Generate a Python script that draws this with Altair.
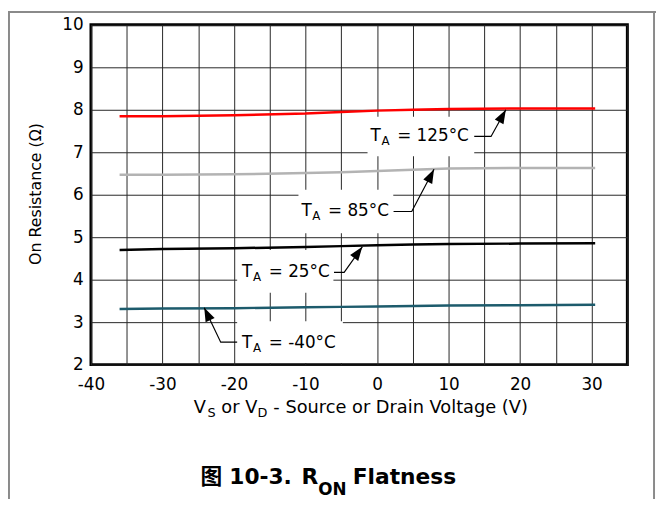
import altair as alt
import pandas as pd

FONT = "DejaVu Sans, Noto Sans CJK SC"

# ---- series ----
volts = [-36, -30, -20, -10, -5, 0, 5, 10, 20, 30.5]
ron_m40 = [3.31, 3.32, 3.33, 3.35, 3.36, 3.37, 3.38, 3.39, 3.40, 3.41]
ron_25 = [4.70, 4.72, 4.74, 4.77, 4.79, 4.81, 4.83, 4.84, 4.85, 4.86]
ron_85 = [6.47, 6.47, 6.48, 6.51, 6.53, 6.56, 6.59, 6.62, 6.63, 6.63]
ron_125 = [7.85, 7.85, 7.87, 7.91, 7.95, 7.98, 8.00, 8.02, 8.03, 8.03]
series_names = ["-40°C", "25°C", "85°C", "125°C"]
series_colors = ["#1d5b6c", "#000000", "#b3b3b3", "#ff0000"]

x_ticks = [-40, -35, -30, -25, -20, -15, -10, -5, 0, 5, 10, 15, 20, 25, 30, 35]
y_ticks = [2, 3, 4, 5, 6, 7, 8, 9, 10]

# ---- annotations (data coordinates) ----
ann_label = ["= -40°C", "= 25°C", "= 85°C", "= 125°C"]
ann_text_x = [-18.87, -18.87, -10.58, -0.91]
ann_text_y = [2.388, 4.053, 5.495, 7.256]
box_x1 = [-19.56, -19.56, -10.99, -1.33]
box_x2 = [-4.78, -6.1, 2.27, 13.59]
box_y1 = [2.04, 3.69, 5.093, 6.907]
box_y2 = [3.023, 4.698, 6.116, 7.837]
lead_x = [-19.56, -6.02, 2.31, 13.59]
lead_y = [2.528, 4.170, 5.605, 7.372]
elbow_x = [-21.86, -4.60, 4.85, 15.94]
tip_x = [-24.16, -2.06, 7.97, 18.01]
tip_y = [3.342, 4.774, 6.598, 8.0]
arrow_angle = [335, 36, 27, 29]

rows = []
for name, vals in zip(series_names, [ron_m40, ron_25, ron_85, ron_125]):
    for v, r in zip(volts, vals):
        rows.append({"series": name, "v": v, "r": r})
df = pd.DataFrame(rows)

ann = pd.DataFrame({"label": ann_label, "v": ann_text_x, "r": ann_text_y})
boxes = pd.DataFrame({"v": box_x1, "v2": box_x2, "r": box_y1, "r2": box_y2})
lrows = []
for i in range(len(ann_label)):
    lrows.append({"a": i, "o": 0, "v": lead_x[i], "r": lead_y[i]})
    lrows.append({"a": i, "o": 1, "v": elbow_x[i], "r": lead_y[i]})
    lrows.append({"a": i, "o": 2, "v": tip_x[i], "r": tip_y[i]})
leaders = pd.DataFrame(lrows)
arrows = pd.DataFrame({"v": tip_x, "r": tip_y, "ang": arrow_angle})

xs = alt.Scale(domain=[-40, 35], nice=False, zero=False)
ys = alt.Scale(domain=[2, 10], nice=False, zero=False)
xaxis = alt.Axis(values=x_ticks, title=None, labelFlush=False, labelOverlap=False,
                 labelPadding=12,
                 labelExpr="datum.value % 10 == 0 && datum.value < 35 ? '' + datum.value : ''")
yaxis = alt.Axis(values=y_ticks, title=None, labelPadding=8, labelOverlap=False,
                 labelExpr="'' + datum.value")


def X(f="v"):
    return alt.X(f, type="quantitative", scale=xs, axis=xaxis)


def Y(f="r"):
    return alt.Y(f, type="quantitative", scale=ys, axis=yaxis)


box_layer = alt.Chart(boxes).mark_rect(color="white").encode(
    x=X(), x2="v2", y=Y(), y2="r2")

lines = alt.Chart(df).mark_line(strokeWidth=2.5).encode(
    x=X(), y=Y(),
    color=alt.Color("series:N", scale=alt.Scale(domain=series_names, range=series_colors), legend=None),
    detail="series:N")

lead_layer = alt.Chart(leaders).mark_line(color="black", strokeWidth=1.2).encode(
    x=X(), y=Y(), detail="a:N", order="o:Q")

ARROW = "M0,0L0.36,1L-0.36,1Z"
arrow_layer = alt.Chart(arrows).mark_point(
    shape=ARROW, filled=True, size=784, color="black", opacity=1, strokeWidth=0
).encode(x=X(), y=Y(), angle=alt.Angle("ang:Q", scale=None))

tA = alt.Chart(ann).mark_text(text="T", align="left", baseline="alphabetic", font=FONT,
                              fontSize=17, color="black").encode(x=X(), y=Y())
sA = alt.Chart(ann).mark_text(text="A", align="left", baseline="alphabetic", font=FONT,
                              fontSize=12, dx=11, dy=4, color="black").encode(x=X(), y=Y())
rA = alt.Chart(ann).mark_text(align="left", baseline="alphabetic", font=FONT,
                              fontSize=17, dx=27, color="black").encode(x=X(), y=Y(), text="label:N")

one = alt.Data(values=[{}])


def txt(s, x, y, size, bold=False, angle=0, align="left", baseline="alphabetic"):
    return alt.Chart(one).mark_text(
        text=s, align=align, baseline=baseline, font=FONT, fontSize=size,
        fontWeight="bold" if bold else "normal", angle=angle, color="black"
    ).encode(x=alt.value(x), y=alt.value(y))


# x-axis title with subscripts (pixel positions relative to plot origin)
xt = [
    txt("V", 104, 393, 18),
    txt("S", 118, 397, 13),
    txt("or V", 132, 393, 18),
    txt("D", 168.5, 397, 13),
    txt("- Source or Drain Voltage (V)", 184.6, 393, 18),
]
yt = [txt("On Resistance (Ω)", -55.7, 171.3, 16, angle=270, align="center", baseline="middle")]
tt = [
    txt("图", 111, 465, 22, bold=True),
    txt("10-3.", 140, 465, 22, bold=True),
    txt("R", 213, 465, 22, bold=True),
    txt("ON", 230, 476, 17, bold=True),
    txt("Flatness", 265, 465, 22, bold=True),
]


def rule(x1, x2, y1, y2):
    return alt.Chart(one).mark_rule(color="#8a8a8a", strokeWidth=2).encode(
        x=alt.value(x1), x2=alt.value(x2), y=alt.value(y1), y2=alt.value(y2))


borders = [rule(-83, -83, -14, 480), rule(-84, 572, -13, -13), rule(570, 570, -14, 480)]

chart = alt.layer(
    box_layer, lines, lead_layer, arrow_layer, tA, sA, rA, *xt, *yt, *tt, *borders
).properties(
    width=543, height=344,
    autosize=alt.AutoSizeParams(type="none"),
    padding={"left": 84, "top": 14, "right": 29, "bottom": 134},
).configure_view(
    stroke="black", strokeWidth=3
).configure_axis(
    grid=True, gridColor="#262626", gridWidth=1, gridOpacity=1, domain=False, ticks=False,
    labelFont=FONT, labelFontSize=17, labelColor="black"
)

chart.save("out.html", embed_options={"renderer": "svg", "actions": False})
